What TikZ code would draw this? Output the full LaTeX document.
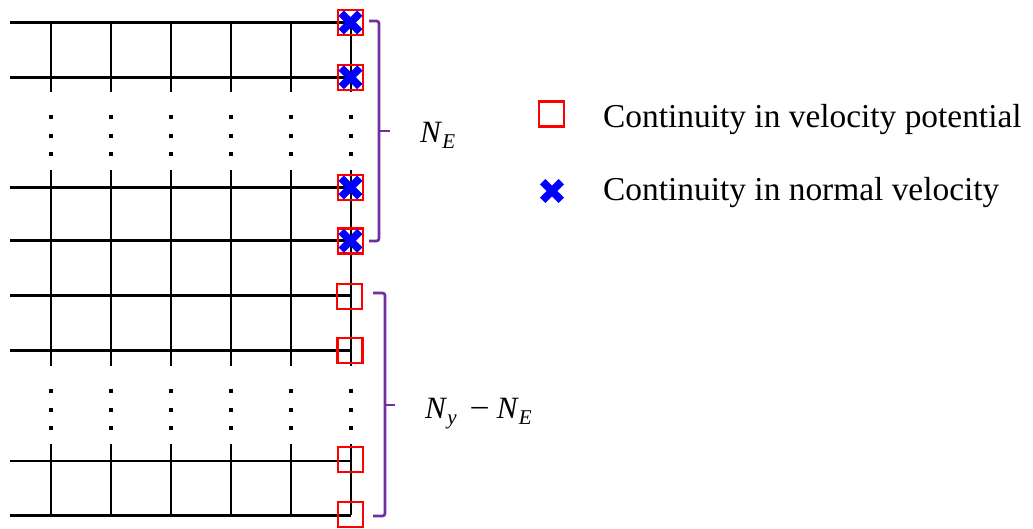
\documentclass[tikz,border=0pt]{standalone}
\usepackage{fontspec}
\setmainfont{Liberation Serif}
\definecolor{bracepurple}{HTML}{7030A0}
\begin{document}
\begin{tikzpicture}[x=1pt,y=-1pt,
  gridline/.style={line width=2.8pt,black},
  dotmark/.style={fill=black,minimum size=3.2pt,inner sep=0pt,outer sep=0pt},
  potbox/.style={draw=red,line width=2.5pt,minimum size=25pt,inner sep=0pt,fill=none},
  bracestyle/.style={draw=bracepurple,line width=2.7pt,rounded corners=2.5pt},
  legendtext/.style={anchor=base west,inner sep=0pt,font=\fontsize{33.4}{40}\selectfont},
  mathlabel/.style={anchor=base west,inner sep=0pt,font=\fontsize{31}{36}\selectfont},
  xmark/.pic={\draw[blue,line width=7.5pt] (-9.3,-9.3) -- (9.3,9.3) (-9.3,9.3) -- (9.3,-9.3);}
]
\useasboundingbox (0,0) rectangle (1033,528);
% horizontal grid lines
\foreach \yy in {22.5,77.3,187.5,240.8,295.2,350.8,461,515.2}
  \draw[gridline] (10,\yy) -- (351,\yy);
% vertical grid segments
\foreach \xx in {51,111,171,231,291,351}{
  \draw[gridline] (\xx,22.5) -- (\xx,92);
  \draw[gridline] (\xx,170) -- (\xx,366);
  \draw[gridline] (\xx,444) -- (\xx,515.2);
  \foreach \yy in {117,136,154,391,410,428}
    \node[dotmark] at (\xx,\yy) {};
}
% markers, top group
\foreach \yy/\nm in {22.5/t1,77.3/t2,187.5/t3,240.8/t4}{
  \node[potbox] (\nm) at (350.5,\yy) {};
  \pic at (\nm.center) {xmark};
}
% markers, bottom group
\node[potbox] (b1) at (349.5,296.5) {};
\node[potbox] (b2) at (350,350.5) {};
\node[potbox] (b3) at (350.5,459.5) {};
\node[potbox] (b4) at (350.5,514.5) {};
% braces
\draw[bracestyle] (369,21) -- (379,21) -- (379,241) -- (369,241);
\draw[bracestyle,rounded corners=0pt] (379,131) -- (390,131);
\draw[bracestyle] (373,293) -- (385,293) -- (385,516) -- (373,516);
\draw[bracestyle,rounded corners=0pt] (385,405) -- (395,405);
% brace labels
\node[mathlabel] (ne) at (420,142) {\textit{N}\raisebox{-6pt}{\fontsize{21}{24}\selectfont\textit{E}}};
\node[mathlabel] (nyne) at (425,418) {\textit{N}\raisebox{-6pt}{\fontsize{21}{24}\selectfont\textit{y}}\hspace{13pt}\scalebox{1.15}[1]{−}\hspace{7pt}\textit{N}\raisebox{-6pt}{\fontsize{21}{24}\selectfont\textit{E}}};
% legend
\node[potbox] (lpot) at (551.5,114) {};
\pic at (552,191) {xmark};
\node[legendtext] (lpottext) at (603,127) {Continuity in velocity potential};
\node[legendtext] (lveltext) at (603,200) {Continuity in normal velocity};
\end{tikzpicture}
\end{document}
